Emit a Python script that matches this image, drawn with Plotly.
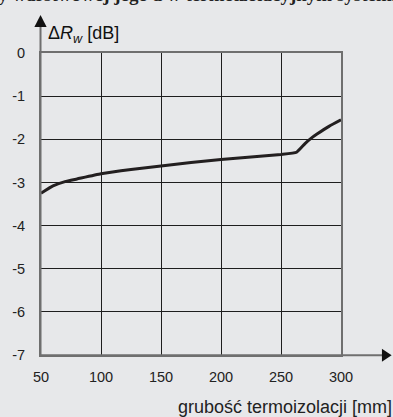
import plotly.graph_objects as go

# Thickness of thermal insulation [mm] and change of the sound reduction index [dB]
thickness_mm = [50, 60, 70, 80, 100, 125, 150, 175, 200, 225, 250, 263, 270, 275, 280, 290, 300]
delta_rw_db = [-3.25, -3.08, -2.98, -2.92, -2.80, -2.70, -2.62, -2.54, -2.47, -2.41, -2.35, -2.30,
               -2.10, -1.98, -1.88, -1.70, -1.55]

x_ticks = [50, 100, 150, 200, 250, 300]
y_ticks = [0, -1, -2, -3, -4, -5, -6, -7]

W, H = 393, 417
ML, MR, MT, MB = 33, 52, 53, 62
PW, PH = W - ML - MR, H - MT - MB


def px(x):
    return (x - ML) / PW


def py(y):
    return (H - MB - y) / PH


BG = "#e7e8ea"
AXIS = "#6f6f6f"
GRID = "#1e1e1e"
FONT = "Liberation Sans, Arial, sans-serif"

fig = go.Figure()
fig.add_trace(go.Scatter(
    x=thickness_mm, y=delta_rw_db, mode="lines",
    line=dict(color="#231f20", width=3, shape="spline", smoothing=0.4),
    hoverinfo="skip", showlegend=False,
))

fig.update_layout(
    width=W, height=H,
    margin=dict(l=ML, r=MR, t=MT, b=MB),
    paper_bgcolor=BG, plot_bgcolor=BG,
    font=dict(family=FONT, size=14.5, color="#222222"),
    xaxis=dict(
        range=[50, 300], tickvals=x_ticks, ticktext=[str(v) for v in x_ticks],
        showgrid=True, gridcolor=GRID, gridwidth=1, zeroline=False,
        showline=True, linecolor=AXIS, linewidth=2, mirror=True,
        ticks="", ticklabelstandoff=8, fixedrange=True,
    ),
    yaxis=dict(
        range=[-7, 0], tickvals=y_ticks, ticktext=[str(v) for v in y_ticks],
        showgrid=True, gridcolor=GRID, gridwidth=1, zeroline=False,
        showline=True, linecolor=AXIS, linewidth=2, mirror=True,
        ticks="", ticklabelstandoff=11, fixedrange=True,
    ),
    shapes=[
        # vertical axis extension and arrow head
        dict(type="line", xref="paper", yref="paper",
             x0=px(32.5), x1=px(32.5), y0=py(355), y1=py(24),
             line=dict(color=AXIS, width=2)),
        dict(type="path", xref="paper", yref="paper",
             path=f"M {px(26.2)} {py(27)} L {px(32.5)} {py(15)} L {px(38.8)} {py(27)} Z",
             fillcolor="#111111", line=dict(width=0)),
        # horizontal axis extension and arrow head
        dict(type="line", xref="paper", yref="paper",
             x0=px(33), x1=px(385), y0=py(355.3), y1=py(355.3),
             line=dict(color=AXIS, width=2)),
        dict(type="path", xref="paper", yref="paper",
             path=f"M {px(383)} {py(348.8)} L {px(393)} {py(355.3)} L {px(383)} {py(361.8)} Z",
             fillcolor="#111111", line=dict(width=0)),
    ],
    annotations=[
        dict(text="Δ<i>R</i><sub><i>w</i></sub> [dB]", xref="paper", yref="paper",
             x=px(38), y=py(35), xanchor="left", yanchor="middle", showarrow=False,
             font=dict(family=FONT, size=18, color="#111111")),
        dict(text="grubość termoizolacji [mm]", xref="paper", yref="paper",
             x=px(395), y=py(407), xanchor="right", yanchor="middle", showarrow=False,
             font=dict(family=FONT, size=18, color="#222222")),
        dict(text="<b>Izolacyjność ściany warstwowej jego a w termoizolacyjnym systemie</b>",
             xref="paper", yref="paper", x=px(410), y=py(-6), xanchor="right",
             yanchor="middle", showarrow=False,
             font=dict(family="Liberation Serif, serif", size=19, color="#222222")),
    ],
)

fig.write_html("out.html")
